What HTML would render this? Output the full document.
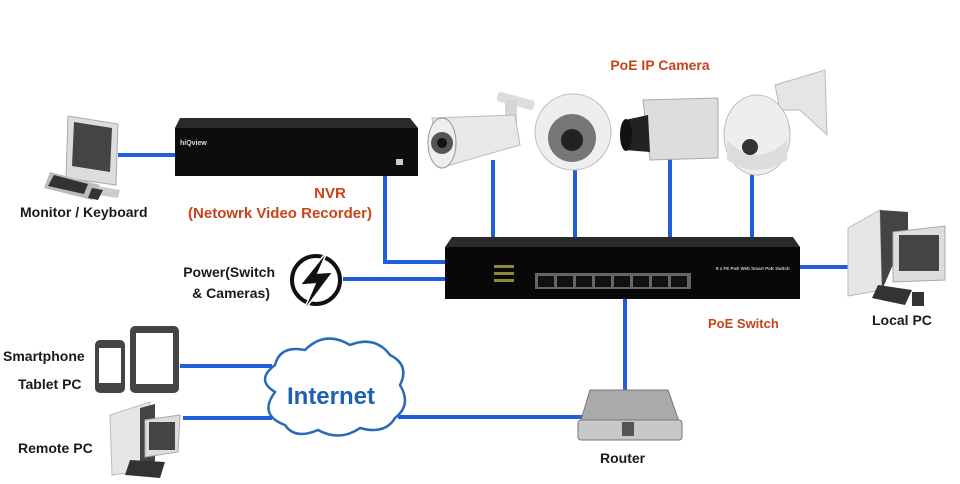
<!DOCTYPE html>
<html><head><meta charset="utf-8"><style>
html,body{margin:0;padding:0;background:#fff;}
svg{display:block;}
text{font-family:"Liberation Sans",sans-serif;font-weight:bold;}
</style></head><body>
<svg width="960" height="484" viewBox="0 0 960 484" xmlns="http://www.w3.org/2000/svg">
<rect width="960" height="484" fill="#fff"/>
<g stroke="#1f5fdc" stroke-width="4" fill="none">
<path d="M118 155H178"/>
<path d="M385 175V262H448"/>
<path d="M343 279H448"/>
<path d="M493 160V240"/><path d="M575 165V240"/><path d="M670 155V240"/><path d="M752 172V240"/>
<path d="M798 267H850"/>
<path d="M625 296V392"/>
<path d="M398 417H582"/>
<path d="M180 366H272"/>
<path d="M183 418H272"/>
</g>
<g>
<path d="M68 116L118 124L116 185L66 178Z" fill="#ddd" stroke="#aaa"/>
<path d="M74 122L112 128L110 172L72 166Z" fill="#444"/>
<path d="M80 183L120 190L118 198L78 192Z" fill="#ccc"/>
<path d="M50 172L100 185L92 200L44 188Z" fill="#bbb"/>
<path d="M54 175L88 184L84 194L48 186Z" fill="#333"/>
<path d="M92 188L103 190L98 200L88 198Z" fill="#333"/>
</g>
<text x="20" y="217" font-size="14" fill="#1a1a1a">Monitor / Keyboard</text>
<path d="M180 118L410 118L418 128L175 128Z" fill="#2a2a2a"/>
<rect x="175" y="128" width="243" height="48" fill="#0d0d0d"/>
<text x="180" y="145" font-size="7" fill="#ddd">hiQview</text>
<rect x="396" y="159" width="7" height="6" fill="#ccc"/>
<text x="330" y="198" font-size="15" fill="#c8431a" text-anchor="middle" font-weight="normal">NVR</text>
<text x="280" y="218" font-size="15" fill="#c8431a" text-anchor="middle" font-weight="normal">(Netowrk Video Recorder)</text>
<text x="660" y="70" font-size="14" fill="#c8431a" text-anchor="middle" font-weight="normal">PoE IP Camera</text>
<g>
<rect x="497" y="96" width="38" height="10" rx="3" fill="#ddd" transform="rotate(15 516 100)"/>
<rect x="505" y="100" width="12" height="30" fill="#d5d5d5"/>
<path d="M432 118L515 115L520 145L440 168Z" fill="#e8e8e8" stroke="#bbb"/>
<ellipse cx="442" cy="143" rx="14" ry="25" fill="#eee" stroke="#999"/>
<circle cx="442" cy="143" r="11" fill="#555"/>
<circle cx="442" cy="143" r="5" fill="#111"/>
</g>
<g>
<ellipse cx="573" cy="132" rx="38" ry="38" fill="#eee" stroke="#bbb"/>
<circle cx="572" cy="138" r="24" fill="#777"/>
<circle cx="572" cy="140" r="11" fill="#222"/>
</g>
<g>
<path d="M643 100L718 98L718 158L650 160Z" fill="#ddd" stroke="#aaa"/>
<path d="M625 120L648 115L650 152L624 150Z" fill="#222"/>
<ellipse cx="626" cy="135" rx="6" ry="16" fill="#111"/>
</g>
<g>
<path d="M775 85L825 70L827 135L800 110L780 110Z" fill="#e5e5e5" stroke="#bbb"/>
<ellipse cx="757" cy="135" rx="33" ry="40" fill="#eee" stroke="#bbb"/>
<path d="M727 140Q757 170 787 140L787 160Q757 180 727 160Z" fill="#ddd"/>
<circle cx="750" cy="147" r="8" fill="#333"/>
</g>
<path d="M452 237L793 237L800 247L445 247Z" fill="#2a2a2a"/>
<rect x="445" y="247" width="355" height="52" fill="#080808"/>
<text x="716" y="270" font-size="4.5" fill="#ccc" font-weight="normal">8 x FE PoE Web Smart PoE Switch</text>
<rect x="535" y="273" width="156" height="16" fill="#666"/>
<g fill="#111">
<rect x="538" y="276" width="16" height="11"/><rect x="557" y="276" width="16" height="11"/><rect x="576" y="276" width="16" height="11"/><rect x="595" y="276" width="16" height="11"/><rect x="614" y="276" width="16" height="11"/><rect x="633" y="276" width="16" height="11"/><rect x="652" y="276" width="16" height="11"/><rect x="671" y="276" width="16" height="11"/>
</g>
<g fill="#8a8a3a"><rect x="494" y="265" width="20" height="3"/><rect x="494" y="272" width="20" height="3"/><rect x="494" y="279" width="20" height="3"/></g>
<text x="708" y="328" font-size="13" fill="#c8431a" font-weight="normal">PoE Switch</text>
<text x="275" y="277" font-size="14" fill="#1a1a1a" text-anchor="end">Power(Switch</text>
<text x="270" y="298" font-size="14" fill="#1a1a1a" text-anchor="end">&amp; Cameras)</text>
<circle cx="316" cy="280" r="24" fill="none" stroke="#111" stroke-width="4"/>
<path d="M328 250L300 285L315 284L303 312L333 272L318 273Z" fill="#111" stroke="#fff" stroke-width="1.5"/>
<g>
<path d="M848 228L880 210L882 290L848 296Z" fill="#e6e6e6" stroke="#bbb"/>
<path d="M880 210L908 212L908 230L882 290Z" fill="#444"/>
<path d="M893 232L945 226L945 280L893 282Z" fill="#ddd" stroke="#aaa"/>
<rect x="899" y="235" width="40" height="36" fill="#444"/>
<path d="M878 285L912 290L905 305L872 298Z" fill="#333"/>
<rect x="912" y="292" width="12" height="14" fill="#333"/>
</g>
<text x="872" y="325" font-size="14" fill="#1a1a1a">Local PC</text>
<text x="3" y="361" font-size="14" fill="#1a1a1a">Smartphone</text>
<text x="18" y="389" font-size="14" fill="#1a1a1a">Tablet PC</text>
<rect x="95" y="340" width="30" height="53" rx="5" fill="#444"/>
<rect x="99" y="348" width="22" height="35" fill="#fff"/>
<rect x="130" y="326" width="49" height="67" rx="5" fill="#444"/>
<rect x="136" y="333" width="37" height="51" fill="#fff"/>
<g>
<path d="M110 415L150 402L152 470L112 475Z" fill="#e6e6e6" stroke="#bbb"/>
<path d="M140 408L155 404L155 470L140 470Z" fill="#444"/>
<path d="M145 420L180 415L178 452L145 457Z" fill="#ddd" stroke="#aaa"/>
<rect x="149" y="422" width="26" height="28" fill="#444"/>
<path d="M130 460L165 462L160 478L125 475Z" fill="#333"/>
</g>
<text x="18" y="453" font-size="14" fill="#1a1a1a">Remote PC</text>
<path d="M275 392Q255 380 275 365Q280 345 305 350Q325 330 350 345Q375 335 390 355Q410 365 400 385Q412 405 395 418Q385 435 360 428Q340 442 318 430Q295 440 285 425Q258 415 275 392Z" fill="#fff" stroke="#2a6ab8" stroke-width="2.5"/>
<text x="331" y="404" font-size="24" fill="#1f5fb0" text-anchor="middle">Internet</text>
<path d="M590 390L668 390L682 430L578 430Z" fill="#aaa" stroke="#777"/>
<rect x="578" y="420" width="104" height="20" rx="3" fill="#c8c8c8" stroke="#777"/>
<rect x="622" y="422" width="12" height="14" fill="#555"/>
<text x="600" y="463" font-size="14" fill="#1a1a1a">Router</text>
</svg>
</body></html>
